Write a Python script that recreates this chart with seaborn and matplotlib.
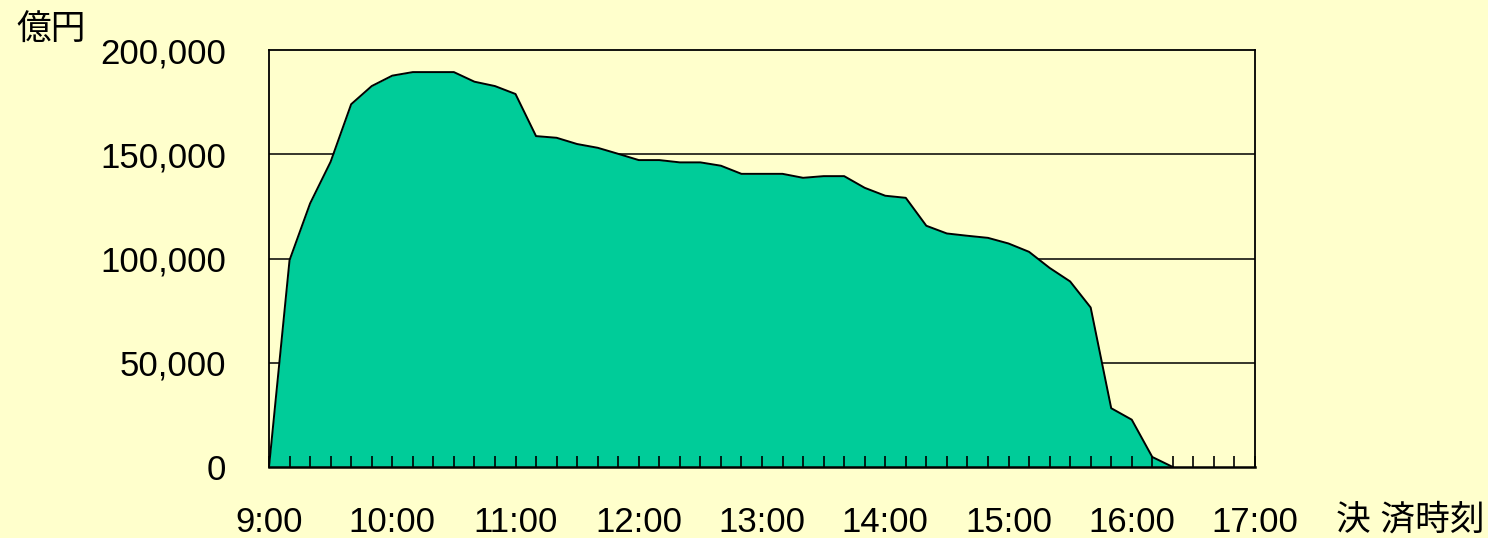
import matplotlib
matplotlib.use('Agg')
import matplotlib.pyplot as plt
import seaborn as sns
from matplotlib.ticker import MultipleLocator, FuncFormatter

# 決済残高の推移（10分刻み、9:00〜16:20）
minutes = list(range(0, 450, 10))
amounts = [0, 99200, 126400, 146400, 174000, 182700, 187700, 189400, 189400, 189400,
           184800, 182700, 178900, 158700, 157900, 154900, 153100, 150200, 147200, 147200,
           146100, 146100, 144500, 140600, 140600, 140600, 138700, 139500, 139500, 133900,
           130100, 129100, 115700, 112000, 110900, 109900, 107200, 103200, 95500, 89000,
           76500, 28200, 22700, 4800, 0]
hour_labels = ['9:00', '10:00', '11:00', '12:00', '13:00', '14:00', '15:00', '16:00', '17:00']
y_ticks = [0, 50000, 100000, 150000, 200000]

bg = '#FFFFCC'
fill = '#00CC99'

sns.set_theme(style='white')
plt.rcParams['font.family'] = ['Liberation Sans', 'Noto Sans CJK JP']

fig = plt.figure(figsize=(14.88, 5.38), dpi=100, facecolor=bg)
ax = fig.add_axes([269 / 1488, 1 - 467 / 538, (1255 - 269) / 1488, (467 - 50) / 538])
ax.set_facecolor(bg)

ax.fill_between(minutes, amounts, 0, color=fill, linewidth=0, zorder=2)
sns.lineplot(x=minutes, y=amounts, color='black', linewidth=1.4, ax=ax, zorder=3)

ax.set_xlim(0, 480)
ax.set_ylim(0, 200000)

# 横の目盛線（塗りの背後）
for v in y_ticks[1:-1]:
    ax.axhline(v, color='black', linewidth=1.1, zorder=1)

ax.xaxis.set_major_locator(MultipleLocator(60))
ax.xaxis.set_minor_locator(MultipleLocator(10))
ax.xaxis.set_major_formatter(FuncFormatter(lambda v, p: hour_labels[int(round(v / 60))] if 0 <= round(v / 60) < len(hour_labels) else ''))
ax.tick_params(axis='x', which='both', direction='in', length=8, width=1.2, color='black',
               bottom=True, top=False)
ax.tick_params(axis='x', which='major', labelsize=25, pad=28, labelcolor='black')
ax.xaxis.set_zorder(4)

ax.set_yticks(y_ticks)
ax.set_yticklabels([f'{v:,}' for v in y_ticks])
ax.tick_params(axis='y', length=0, labelsize=25, pad=31, labelcolor='black')

for s in ax.spines.values():
    s.set_visible(True)
    s.set_color('black')
    s.set_linewidth(1.3)
    s.set_zorder(5)
ax.spines['bottom'].set_linewidth(1.8)

ax.set_xlabel('')
ax.set_ylabel('')
fig.text(51 / 1488, 1 - 30 / 538, '億円', fontsize=25, ha='center', va='center', color='black')
fig.text(1410 / 1488, 1 - 520 / 538, '決 済時刻', fontsize=25, ha='center', va='center', color='black')

plt.savefig('out.png', dpi=100, facecolor=bg)
plt.close()
